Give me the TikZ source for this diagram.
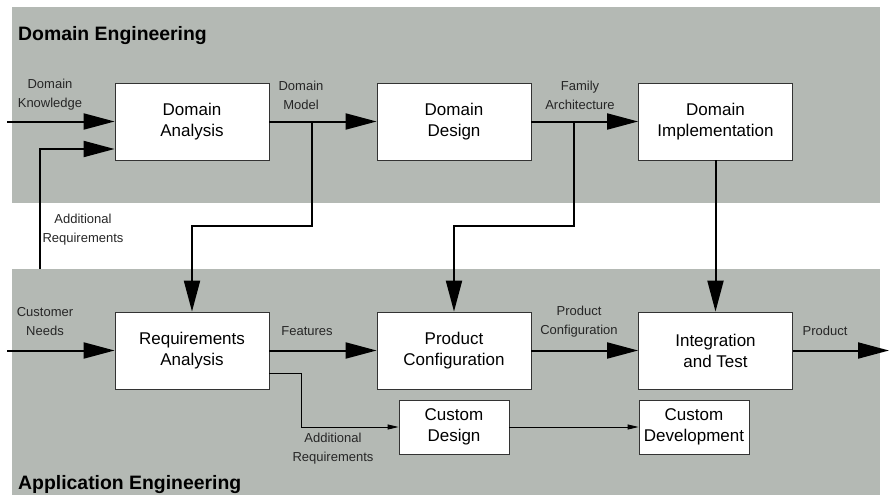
\documentclass[tikz,border=0pt]{standalone}
\usepackage{fontspec}
\setmainfont{Liberation Sans}
\usetikzlibrary{arrows.meta,calc}
\definecolor{band}{RGB}{180,185,180}
\tikzset{
  proc/.style={draw=black!80,line width=0.8pt,fill=white,minimum width=154pt,minimum height=77pt,align=center,inner sep=0pt,font=\fontsize{17}{21}\selectfont},
  small proc/.style={proc,minimum width=110pt,minimum height=54pt},
  lbl/.style={align=center,inner sep=0pt,font=\fontsize{13}{19}\selectfont,text=black!85},
  title/.style={anchor=base west,inner sep=0pt,font=\fontsize{19.4}{22}\selectfont\bfseries},
  bigarrow/.style={line width=2pt,-{Triangle[length=31pt,width=16pt]}},
  bigline/.style={line width=2pt},
  thinarrow/.style={line width=0.9pt,-{Triangle[length=11pt,width=5pt]}},
}
\begin{document}
\begin{tikzpicture}[x=1pt,y=-1pt]
\useasboundingbox (0,0) rectangle (889,495);
% bands
\fill[band] (12,7) rectangle (880,203);
\fill[band] (12,269) rectangle (880,495);
\node[title] (t1) at (18,41) {Domain Engineering};
\node[title] (t2) at (18,489) {Application Engineering};
% boxes
\node[proc] (DA) at (192,121.5) {Domain\\Analysis};
\node[proc] (DD) at (454,121.5) {Domain\\Design};
\node[proc] (DI) at (715.5,121.5) {Domain\\Implementation};
\node[proc] (RA) at (192,350.5) {Requirements\\Analysis};
\node[proc] (PC) at (454,350.5) {Product\\Configuration};
\node[proc] (IT) at (715.5,350.5) {Integration\\and Test};
\node[small proc] (CD) at (454,427) {Custom\\Design};
\node[small proc] (CV) at (694,427) {Custom\\Development};
% coordinates
\coordinate (dkin) at (7,121.5);
\coordinate (cnin) at (7,350.5);
\coordinate (arup) at (40,269);
\coordinate (dm) at (312,121.5);
\coordinate (fa) at (574,121.5);
\coordinate (prod) at (889,350.5);
\coordinate (arlo) at (301,373);
% connectors
\draw[bigarrow] (dkin) -- (DA.west);
\draw[bigarrow] (arup) |- ([yshift=-27.5pt]DA.west);
\draw[bigarrow] (DA.east) -- (DD.west);
\draw[bigarrow] (DD.east) -- (DI.west);
\draw[bigarrow] (dm) -- ++(0,104.5) -| (RA.north);
\draw[bigarrow] (fa) -- ++(0,104.5) -| (PC.north);
\draw[bigarrow] (DI.south) -- (IT.north);
\draw[bigarrow] (cnin) -- (RA.west);
\draw[bigarrow] (RA.east) -- (PC.west);
\draw[bigarrow] (PC.east) -- (IT.west);
\draw[bigarrow] (IT.east) -- (prod);
\draw[thinarrow] ([yshift=-22.5pt]RA.east) -- (arlo) |- (CD.west);
\draw[thinarrow] (CD.east) -- (CV.west);
% labels
\node[lbl] (l1) at (50,94.5) {Domain\\Knowledge};
\node[lbl] (l2) at (301,95.5) {Domain\\Model};
\node[lbl] (l3) at (580,95.5) {Family\\Architecture};
\node[lbl] (l4) at (83,229.5) {Additional\\Requirements};
\node[lbl] (l5) at (45,322) {Customer\\Needs};
\node[lbl] (l6) at (307,331) {Features};
\node[lbl] (l7) at (579,322) {Product\\Configuration};
\node[lbl] (l8) at (825,331) {Product};
\node[lbl] (l9) at (333,448.5) {Additional\\Requirements};
\end{tikzpicture}
\end{document}
